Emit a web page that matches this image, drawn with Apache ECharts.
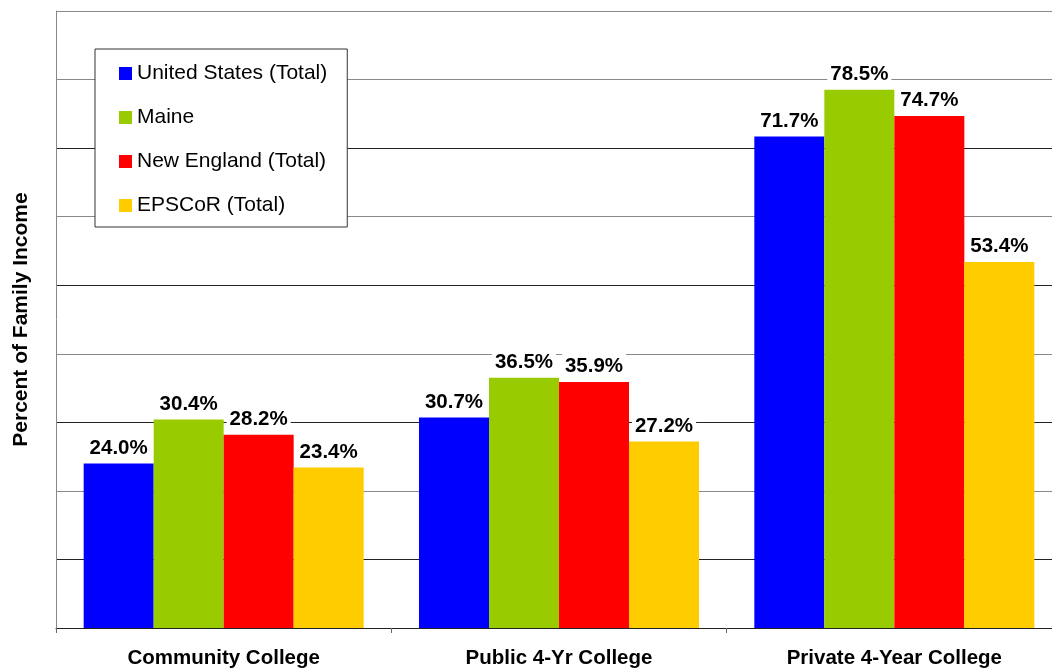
<!DOCTYPE html>
<html>
<head>
<meta charset="utf-8">
<script src="https://cdn.jsdelivr.net/npm/echarts@6/dist/echarts.min.js"></script>
<style>
html,body{margin:0;padding:0;background:#fff;overflow:hidden;width:1052px;height:671px;}
#chart{width:1062px;height:671px;}
</style>
</head>
<body>
<div id="chart"></div>
<script>
var categories = ['Community College', 'Public 4-Yr College', 'Private 4-Year College'];
var seriesNames = ['United States (Total)', 'Maine', 'New England (Total)', 'EPSCoR (Total)'];
var usTotal = [24.0, 30.7, 71.7];
var maine = [30.4, 36.5, 78.5];
var newEngland = [28.2, 35.9, 74.7];
var epscor = [23.4, 27.2, 53.4];
var seriesColors = ['#0000FF', '#99CC00', '#FF0000', '#FFCC00'];
var yAxisTitle = 'Percent of Family Income';

var FONT = "'Liberation Sans', Arial, sans-serif";
var chart = echarts.init(document.getElementById('chart'), null, {renderer: 'canvas'});

var dataSets = [usTotal, maine, newEngland, epscor];
var series = dataSets.map(function (d, i) {
  return {
    name: seriesNames[i],
    type: 'bar',
    data: d,
    barWidth: 70,
    barGap: '0%',
    itemStyle: {color: seriesColors[i]},
    label: {
      show: true,
      position: 'top',
      distance: 3,
      formatter: function (p) { return p.value.toFixed(1) + '%'; },
      fontFamily: FONT,
      fontWeight: 'bold',
      fontSize: 20.5,
      color: '#000',
      backgroundColor: '#fff',
      padding: [2, 3]
    }
  };
});

var gridColors = ['#888', '#222', '#888', '#222', '#888', '#222', '#888', '#222', '#888', '#888'];

chart.setOption({
  animation: false,
  backgroundColor: '#fff',
  grid: {left: 56, top: 11, right: 0, bottom: 43, containLabel: false},
  legend: {
    orient: 'vertical',
    left: 95,
    top: 49,
    data: seriesNames,
    icon: 'rect',
    itemWidth: 13,
    itemHeight: 13,
    itemGap: 23,
    backgroundColor: '#fff',
    borderColor: '#333',
    borderWidth: 1,
    padding: [14, 20, 11, 24],
    textStyle: {fontFamily: FONT, fontSize: 21, color: '#000'}
  },
  xAxis: {
    type: 'category',
    data: categories,
    axisLine: {show: true, lineStyle: {color: '#222', width: 1}},
    axisTick: {show: true, length: 5, lineStyle: {color: '#666'}},
    axisLabel: {
      margin: 20,
      fontFamily: FONT,
      fontWeight: 'bold',
      fontSize: 20.5,
      color: '#000'
    }
  },
  yAxis: {
    type: 'value',
    min: 0,
    max: 90,
    interval: 10,
    name: yAxisTitle,
    nameLocation: 'middle',
    nameGap: 24,
    nameTextStyle: {fontFamily: FONT, fontWeight: 'bold', fontSize: 21, color: '#000'},
    axisLine: {show: true, lineStyle: {color: '#888', width: 1}},
    axisTick: {show: false},
    axisLabel: {show: false},
    splitLine: {show: true, lineStyle: {color: gridColors, width: 1}}
  },
  series: series
});
</script>
</body>
</html>
